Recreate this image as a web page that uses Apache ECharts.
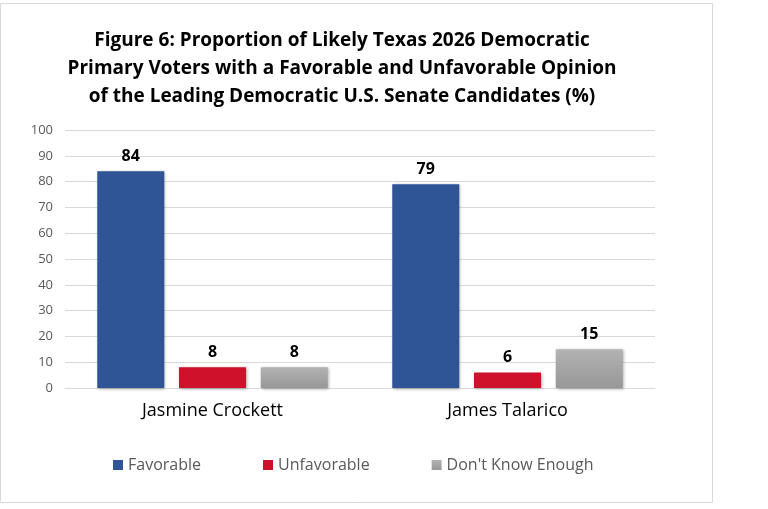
<!DOCTYPE html>
<html>
<head>
<meta charset="utf-8">
<script src="https://cdn.jsdelivr.net/npm/echarts@6/dist/echarts.min.js"></script>
<style>html,body{margin:0;padding:0;background:#fff;}#c{width:768px;height:509px;}</style>
</head>
<body>
<div id="c"></div>
<script>
const categories = ["Jasmine Crockett", "James Talarico"];
const favorable = [84, 79];
const unfavorable = [8, 6];
const dontKnow = [8, 15];
const yTicks = [0, 10, 20, 30, 40, 50, 60, 70, 80, 90, 100];
const titleText = "Figure 6: Proportion of Likely Texas 2026 Democratic\nPrimary Voters with a Favorable and Unfavorable Opinion\nof the Leading Democratic U.S. Senate Candidates (%)";

const chart = echarts.init(document.getElementById('c'));
const font = "'Open Sans', 'Noto Sans', sans-serif";
const labelCfg = {show: true, position: 'top', distance: 7, fontFamily: font, fontWeight: 'bold', fontSize: 16, color: '#000'};
const shadow = {shadowBlur: 3, shadowColor: 'rgba(0,0,0,0.35)', shadowOffsetX: 1, shadowOffsetY: 1};

chart.setOption({
  animation: false,
  textStyle: {fontFamily: font},
  graphic: [{
    type: 'rect', left: 0, top: 3, z: -1,
    shape: {width: 712, height: 499},
    style: {fill: '#fff', stroke: '#d9d9d9', lineWidth: 1}
  }],
  title: {
    text: titleText,
    left: 337, top: 22, textAlign: 'center',
    textStyle: {fontFamily: font, fontWeight: 'bold', fontSize: 19, lineHeight: 28, color: '#000'}
  },
  legend: {
    left: 108, top: 452,
    itemWidth: 10, itemHeight: 10, itemGap: 62,
    icon: 'rect',
    textStyle: {fontFamily: font, fontSize: 16, color: '#595959'},
    data: ['Favorable', 'Unfavorable', "Don't Know Enough"]
  },
  grid: {left: 65, right: 113, top: 130, bottom: 121},
  xAxis: {
    type: 'category', data: categories,
    axisLine: {show: true, lineStyle: {color: '#d9d9d9'}},
    axisTick: {show: false},
    axisLabel: {fontFamily: font, fontSize: 18, color: '#000', margin: 14}
  },
  yAxis: {
    type: 'value', min: yTicks[0], max: yTicks[yTicks.length - 1], interval: 10,
    axisLine: {show: false}, axisTick: {show: false},
    splitLine: {lineStyle: {color: '#d9d9d9'}},
    axisLabel: {fontFamily: font, fontSize: 13, color: '#595959', margin: 12}
  },
  series: [
    {name: 'Favorable', type: 'bar', data: favorable, barWidth: 67, barGap: '22%',
     itemStyle: Object.assign({color: '#2f5597'}, shadow), label: labelCfg},
    {name: 'Unfavorable', type: 'bar', data: unfavorable, barWidth: 67,
     itemStyle: Object.assign({color: '#d0112b'}, shadow), label: labelCfg},
    {name: "Don't Know Enough", type: 'bar', data: dontKnow, barWidth: 67,
     itemStyle: Object.assign({color: new echarts.graphic.LinearGradient(0, 0, 0, 1, [{offset: 0, color: '#b3b3b3'}, {offset: 1, color: '#979797'}])}, shadow),
     label: labelCfg}
  ]
});
</script>
</body>
</html>
